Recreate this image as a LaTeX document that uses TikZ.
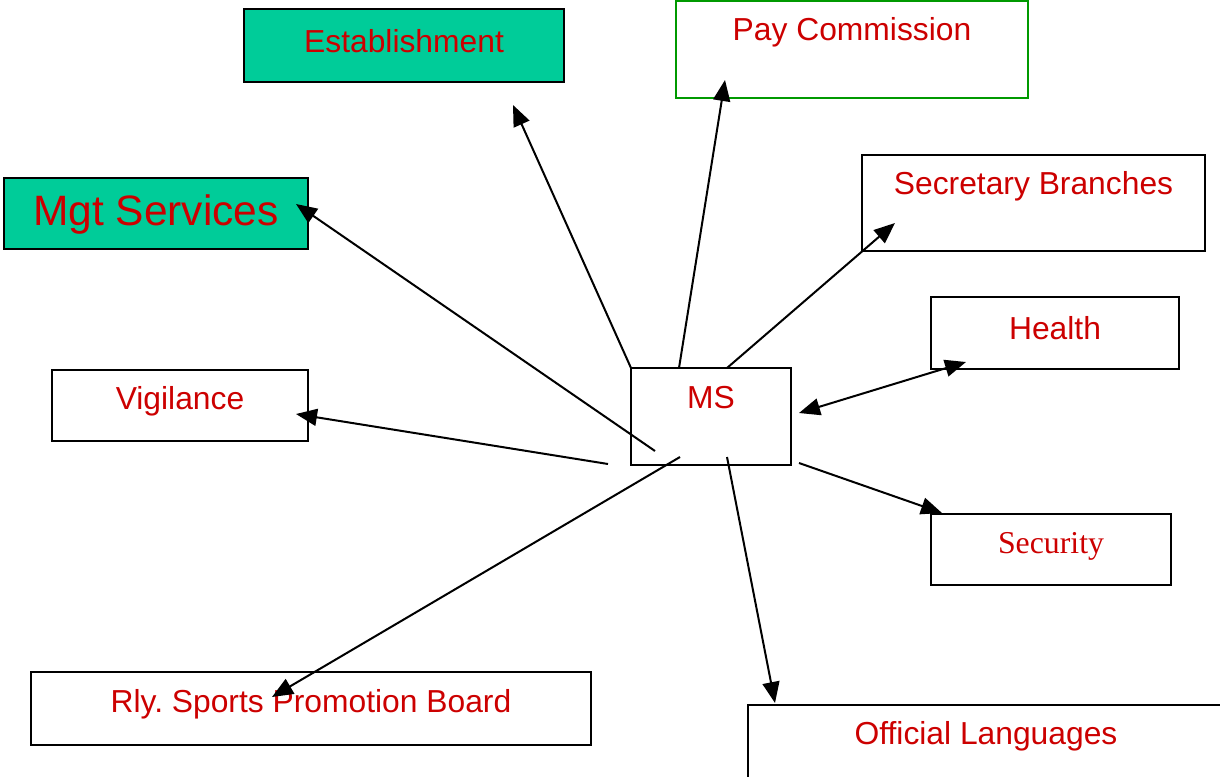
\documentclass[tikz,border=0pt]{standalone}
\usepackage{fontspec}
\setmainfont{Liberation Sans}
\newfontfamily\serifbox{Liberation Serif}
\usetikzlibrary{arrows.meta}
\definecolor{boxteal}{RGB}{0,204,153}
\definecolor{boxred}{RGB}{204,0,0}
\definecolor{boxgreen}{RGB}{0,153,0}
\tikzset{
  unit/.style={draw=black,line width=2pt,rectangle,inner sep=0pt},
  lbl/.style={text=boxred,font=\fontsize{31.8}{38}\selectfont,anchor=center,inner sep=0pt},
  arr/.style={line width=2pt,-{Triangle[length=21pt,width=17pt]}},
}
\frenchspacing
\begin{document}
\begin{tikzpicture}[x=1pt,y=-1pt]
  \useasboundingbox (0,0) rectangle (1220,776);
  % units round the MS
  \node[unit,fill=boxteal,minimum width=320pt,minimum height=73pt,
    label={[lbl,yshift=-33pt]north:Establishment}] (est) at (404,45.5) {};
  \node[unit,draw=boxgreen,minimum width=352pt,minimum height=97pt,
    label={[lbl,yshift=-32pt]north:Pay Commission}] (pay) at (852,49.5) {};
  \node[unit,minimum width=343pt,minimum height=96pt,
    label={[lbl,yshift=-32pt]north:Secretary Branches}] (secr) at (1033.5,203) {};
  \node[unit,fill=boxteal,minimum width=304pt,minimum height=71pt,
    label={[lbl,yshift=-38pt,font=\fontsize{42.5}{50}\selectfont]north:Mgt Services}] (mgt) at (156,213.5) {};
  \node[unit,minimum width=248pt,minimum height=72pt,
    label={[lbl,yshift=-32pt]north:Health}] (health) at (1055,333) {};
  \node[unit,minimum width=256pt,minimum height=71pt,
    label={[lbl,yshift=-32pt]north:Vigilance}] (vig) at (180,405.5) {};
  \node[unit,minimum width=160pt,minimum height=97pt,
    label={[lbl,yshift=-31pt]north:MS}] (ms) at (711,416.5) {};
  \node[unit,minimum width=240pt,minimum height=71pt,
    label={[lbl,yshift=-33pt,font=\serifbox\fontsize{31.8}{38}\selectfont]north:Security}] (secu) at (1051,549.5) {};
  \node[unit,minimum width=560pt,minimum height=73pt,
    label={[lbl,yshift=-33pt]north:Rly. Sports Promotion Board}] (rly) at (311,708.5) {};
  \node[unit,minimum width=476pt,minimum height=73pt,
    label={[lbl,yshift=-32pt]north:Official Languages}] (offl) at (986,741.5) {};
  % arrow ends
  \coordinate (ms-est) at (631,368);   \coordinate (to-est) at (513,105);
  \coordinate (ms-pay) at (679,368);   \coordinate (to-pay) at (725,80);
  \coordinate (ms-secr) at (727,368);  \coordinate (to-secr) at (895,223);
  \coordinate (ms-mgt) at (655,451);   \coordinate (to-mgt) at (296,204);
  \coordinate (ms-vig) at (608,464);   \coordinate (to-vig) at (296,414);
  \coordinate (ms-rly) at (680,457);   \coordinate (to-rly) at (272,697);
  \coordinate (ms-offl) at (727,457);  \coordinate (to-offl) at (775,703);
  \coordinate (ms-secu) at (799,463);  \coordinate (to-secu) at (942,513);
  \coordinate (ms-health) at (799,413); \coordinate (to-health) at (966,362);
  \draw[arr] (ms-est) -- (to-est);
  \draw[arr] (ms-pay) -- (to-pay);
  \draw[arr] (ms-secr) -- (to-secr);
  \draw[arr] (ms-mgt) -- (to-mgt);
  \draw[arr] (ms-vig) -- (to-vig);
  \draw[arr] (ms-rly) -- (to-rly);
  \draw[arr] (ms-offl) -- (to-offl);
  \draw[arr] (ms-secu) -- (to-secu);
  \draw[arr,{Triangle[length=21pt,width=17pt]}-{Triangle[length=21pt,width=17pt]}] (ms-health) -- (to-health);
\end{tikzpicture}
\end{document}
